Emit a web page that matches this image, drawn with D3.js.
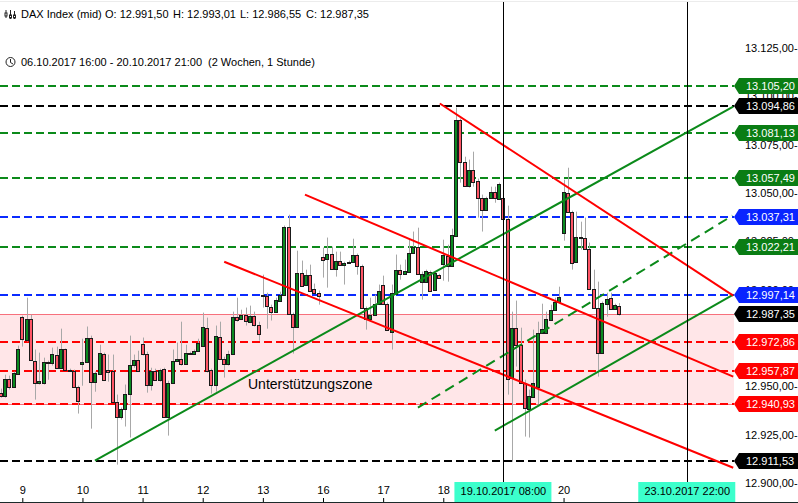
<!DOCTYPE html>
<html lang="de">
<head>
    <meta charset="utf-8">
    <title>DAX Index</title>
    <script src="https://d3js.org/d3.v7.min.js"></script>
</head>
<style>
    body {
        margin: 0;
        padding: 0;
        background-color: #ffffff;
        overflow: hidden;
    }
    svg text {
        font-family: "Liberation Sans", Arial, sans-serif;
        font-size: 11px;
        fill: #000;
    }
    .axis path { display: none; }
    .axis line { stroke: #000; }
    .tag-text { fill: #fff !important; }
</style>
<body>
    <svg width="798" height="503" id="chart"></svg>

    <script>
        // hourly candles, 08:00-21:00 per day, the first six belong to 06.10.
        var candleOpen = [12945.2,12946.7,12945.2,12954.0,12949.8,12956.6,
            12986.0,12974.1,12985.0,12963.3,12951.9,12951.9,12962.2,12962.2,12966.4,12959.6,12969.5,12958.6,12958.1,12949.8,
            12961.7,12962.7,12975.2,12952.4,12956.6,12966.9,12958.6,12958.1,12942.1,12934.3,12938.4,12946.2,12961.2,12963.8,
            12972.1,12966.9,12950.9,12958.1,12953.4,12959.1,12934.3,12951.9,12963.3,12964.3,12961.7,12966.9,12966.9,12968.4,
            12971.0,12980.3,12958.6,12950.9,12975.7,12964.3,12961.7,12966.9,12986.0,12985.0,12987.1,12983.4,12986.5,12981.9,
            12996.9,12996.9,12991.2,12988.6,12994.3,12997.4,13032.5,12987.6,12980.9,13008.8,13002.6,13007.7,13000.5,12998.4,
            13017.0,13016.0,13018.6,13010.8,13015.0,13012.9,13013.9,13014.4,13018.1,13012.4,12990.7,12985.0,12987.1,12992.7,
            13002.6,12992.7,12978.3,12997.9,13010.3,13008.2,13009.3,13019.1,13022.2,13004.1,13004.1,13009.3,13000.0,13007.7,
            13013.4,13017.5,13012.4,13027.9,13087.9,13066.2,13053.7,13062.0,13056.3,13047.5,13041.3,13047.5,13050.6,13047.0,
            13047.5,13036.7,12954.5,12980.3,12971.5,12951.9,12938.4,12944.7,12949.8,12977.7,12977.7,12984.5,12989.6,12993.8,
            13029.4,13050.1,13040.3,13014.4,13026.9,13026.9,13021.2,13000.5,12990.7,12967.4,12992.7,12995.8,12990.2,12991.5];
        var candleHigh = [12947.2,12948.8,12956.0,12955.5,12957.6,12971.0,
            12986.5,12995.8,12987.1,12969.0,12967.4,12964.8,12963.3,12970.0,12970.5,12979.8,12969.5,12959.1,12958.6,12950.3,
            12974.6,12980.9,12976.2,12957.6,12971.5,12967.4,12966.4,12966.4,12945.7,12939.0,12950.9,12976.2,12966.4,12968.4,
            12975.2,12967.9,12959.6,12959.1,12959.1,12959.6,12952.9,12969.0,12972.6,12983.4,12971.5,12967.9,12969.0,12974.6,
            12988.1,12985.5,12959.1,12981.4,12983.4,12965.3,12968.4,12988.6,12995.8,12989.6,12990.7,12991.7,12988.6,12983.4,
            13007.7,12998.4,12992.2,12995.8,12998.9,13033.1,13038.7,12988.1,13020.1,13015.0,13010.3,13012.9,13003.1,12999.5,
            13021.7,13026.9,13022.2,13019.6,13019.6,13014.4,13015.0,13026.3,13018.6,13012.9,12991.2,12995.8,12997.4,13002.6,
            13007.2,12993.3,13002.6,13018.1,13012.9,13015.5,13025.8,13030.0,13032.0,13009.3,13010.3,13009.8,13009.3,13008.2,
            13025.8,13023.2,13031.5,13094.1,13088.4,13068.7,13067.2,13071.3,13057.4,13049.1,13048.0,13053.2,13053.2,13055.3,
            13048.0,13043.4,12988.6,12994.3,12980.3,12953.4,12948.3,12979.3,12983.4,12992.7,12988.6,12992.2,12995.8,13001.5,
            13056.8,13063.0,13040.8,13040.3,13035.1,13037.2,13024.3,13010.3,13004.1,12993.8,12998.4,12998.4,12992.7,12993.01];
        var candleLow = [12943.6,12944.1,12944.1,12948.3,12949.3,12956.0,
            12970.5,12973.1,12963.8,12943.1,12950.9,12950.9,12953.4,12960.7,12959.1,12959.1,12958.1,12957.6,12949.3,12935.9,
            12950.3,12962.2,12928.1,12947.2,12956.0,12952.9,12952.4,12941.5,12909.5,12932.8,12929.2,12923.5,12959.6,12957.6,
            12965.9,12946.7,12947.8,12952.9,12952.4,12933.8,12924.5,12951.4,12962.7,12960.7,12961.2,12966.4,12966.4,12967.9,
            12970.5,12957.1,12946.2,12947.2,12963.8,12954.5,12960.7,12966.4,12983.4,12984.5,12981.4,12982.9,12980.9,12973.6,
            12990.7,12979.8,12984.0,12988.1,12993.8,12996.9,12987.1,12966.9,12980.3,13001.5,13002.0,12998.9,12997.9,12992.2,
            13006.2,13001.0,13010.3,13006.7,13012.4,13002.6,13013.4,13013.9,13007.7,12990.2,12979.3,12984.5,12986.5,12992.2,
            12992.2,12978.8,12969.0,12997.4,13005.1,13007.7,13008.8,13018.6,13007.7,12994.8,13003.6,12998.9,12999.5,13005.7,
            13004.6,13004.1,13011.9,13027.4,13055.3,13053.2,13052.7,13053.2,13037.2,13030.0,13040.8,13047.0,13044.9,13046.5,
            13036.2,12945.7,12911.0,12960.2,12951.4,12924.0,12923.5,12944.1,12940.5,12977.2,12977.2,12984.0,12989.1,12993.3,
            13025.3,13039.8,13010.3,13013.9,13020.7,13020.7,13000.0,12990.2,12955.0,12966.9,12986.0,12989.6,12989.6,12986.55];
        var candleClose = [12945.7,12945.2,12954.0,12949.8,12957.1,12969.5,
            12974.6,12985.0,12963.8,12951.9,12952.9,12962.7,12962.7,12966.9,12959.6,12969.5,12958.6,12958.1,12949.8,12942.6,
            12962.7,12975.2,12952.4,12957.1,12967.4,12953.4,12957.6,12942.1,12934.3,12938.4,12946.2,12961.2,12963.8,12958.1,
            12966.9,12950.9,12958.1,12953.4,12958.6,12934.3,12951.9,12963.3,12964.3,12961.7,12967.4,12967.4,12968.4,12972.6,
            12980.9,12958.1,12950.9,12976.2,12964.3,12961.7,12966.9,12986.0,12984.5,12987.1,12984.0,12986.5,12981.9,12977.2,
            12997.4,12991.7,12988.6,12994.8,12997.4,13032.5,12987.6,12980.9,13008.8,13002.0,13007.7,12999.5,12998.4,12996.9,
            13015.5,13018.6,13010.8,13015.0,13012.9,13013.9,13014.4,13018.1,13012.4,12990.7,12985.0,12987.1,12992.7,12999.5,
            12992.7,12979.3,12998.4,13010.3,13008.2,13009.8,13019.1,13022.2,13008.2,13008.2,13009.8,12999.5,13008.8,13006.2,
            13018.1,13012.4,13028.4,13087.9,13066.2,13053.7,13062.0,13055.8,13047.5,13041.3,13047.5,13050.6,13047.5,13054.8,
            13036.7,12954.0,12980.3,12971.5,12951.9,12939.0,12945.2,12951.9,12977.7,12979.8,12985.0,12989.6,12993.8,12996.4,
            13050.6,13040.3,13013.9,13027.4,13027.4,13021.2,13000.5,12990.7,12967.4,12993.3,12995.3,12990.2,12992.2,12987.35];

        var dayIndex = [6, 20, 34, 48, 62, 76, 90, 104, 118, 132];
        var dayLabels = ["9", "10", "11", "12", "13", "16", "17", "18", "19", "20"];
        var priceTicks = [13125, 13100, 13075, 13050, 13025, 13000, 12975, 12950, 12925, 12900];

        var levelPrices = [13105.20, 13094.86, 13081.13, 13057.49, 13037.31, 13022.21, 12997.14, 12972.86, 12957.87, 12940.93, 12911.53];
        var levelKinds = ["green", "black", "green", "green", "blue", "green", "blue", "red", "red", "red", "black"];

        var zoneTop = 12987.35;
        var zoneBottom = 12940.93;
        var lastClose = 12987.35;

        // trend lines, bar index and price at both ends
        var trendKinds = ["green", "green", "greenDash", "red", "red", "red"];
        var trendStartIndex = [22.9, 116.0, 98.1, 103.2, 71.8, 53.0];
        var trendStartPrice = [12911.6, 12927.1, 12939.0, 13096.2, 13049.1, 13014.4];
        var trendEndIndex = [171.5, 171.5, 171.3, 171.5, 171.5, 171.5];
        var trendEndPrice = [13094.6, 12997.4, 13038.2, 12996.9, 12955.0, 12907.9];

        var crossIndex = [118, 160.8];
        var crossLabels = ["19.10.2017 08:00", "23.10.2017 22:00"];

        var colors = {green: "#0b8a1a", greenDash: "#0b8a1a", black: "#000000", blue: "#0a2bff", red: "#ff0000"};
        var tagColors = {green: "#0a7d14", black: "#000000", blue: "#0a24ff", red: "#ff0000"};

        var svg = d3.select("#chart"),
            plotRight = 734,
            axisY = 502;

        var x = d3.scaleLinear().domain([6, 145]).range([22.3, 619.4]);
        var y = d3.scaleLinear().domain([12900, 13125]).range([483, 47.8]);

        svg.append("rect")
            .attr("x", 0).attr("y", 1).attr("width", 798).attr("height", 1)
            .attr("fill", "#ececec");

        // support zone
        svg.append("rect")
            .attr("x", 0)
            .attr("y", y(zoneTop))
            .attr("width", plotRight)
            .attr("height", y(zoneBottom) - y(zoneTop))
            .attr("fill", "#ffe6e8");

        [zoneTop, zoneBottom].forEach(function(p) {
            svg.append("line")
                .attr("x1", 0).attr("x2", plotRight)
                .attr("y1", Math.round(y(p)) + 0.5).attr("y2", Math.round(y(p)) + 0.5)
                .attr("stroke", "#f7707c");
        });

        // horizontal levels
        svg.append("g").selectAll("line")
            .data(levelPrices)
            .enter()
            .append("line")
            .attr("x1", 0)
            .attr("x2", plotRight)
            .attr("y1", function(d) { return Math.round(y(d)); })
            .attr("y2", function(d) { return Math.round(y(d)); })
            .attr("stroke", function(d, i) { return colors[levelKinds[i]]; })
            .attr("stroke-width", 2)
            .attr("stroke-dasharray", "8,4");

        // candles
        var candles = svg.append("g").selectAll("g")
            .data(d3.range(candleOpen.length))
            .enter()
            .append("g");

        candles.append("line")
            .attr("x1", function(i) { return Math.round(x(i)) + 0.5; })
            .attr("x2", function(i) { return Math.round(x(i)) + 0.5; })
            .attr("y1", function(i) { return y(candleHigh[i]); })
            .attr("y2", function(i) { return y(candleLow[i]); })
            .attr("stroke", "#a8a8a8");

        candles.append("rect")
            .attr("x", function(i) { return Math.round(x(i)) - 1.5; })
            .attr("width", 3)
            .attr("y", function(i) { return Math.round(y(Math.max(candleOpen[i], candleClose[i]))) + 0.5; })
            .attr("height", function(i) {
                return Math.max(1, Math.round(Math.abs(y(candleOpen[i]) - y(candleClose[i]))));
            })
            .attr("fill", function(i) { return candleClose[i] >= candleOpen[i] ? "#0a8a20" : "#ff5566"; })
            .attr("stroke", "#1a1a1a")
            .attr("stroke-width", 1);

        // trend lines
        trendKinds.forEach(function(kind, i) {
            svg.append("line")
                .attr("x1", x(trendStartIndex[i]))
                .attr("y1", y(trendStartPrice[i]))
                .attr("x2", x(trendEndIndex[i]))
                .attr("y2", y(trendEndPrice[i]))
                .attr("stroke", colors[kind])
                .attr("stroke-width", 2)
                .attr("stroke-dasharray", kind == "greenDash" ? "10,6" : null);
        });

        // crosshair lines
        crossIndex.forEach(function(c) {
            svg.append("line")
                .attr("x1", Math.round(x(c)) + 0.5).attr("x2", Math.round(x(c)) + 0.5)
                .attr("y1", 2).attr("y2", axisY)
                .attr("stroke", "#000");
        });

        // header
        var header = [
            ["DAX Index (mid)", 21, 18], ["O: 12.991,50", 105, 18], ["H: 12.993,01", 173, 18],
            ["L: 12.986,55", 240, 18], ["C: 12.987,35", 306, 18],
            ["06.10.2017 16:00 - 20.10.2017 21:00", 21, 66], ["(2 Wochen, 1 Stunde)", 208, 66]
        ];
        header.forEach(function(h) {
            svg.append("text").attr("x", h[1]).attr("y", h[2]).text(h[0]);
        });

        // little bars icon next to the title
        var icon = svg.append("g").attr("stroke", "#222").attr("fill", "none");
        [[6, 10, 18, 13], [10.5, 10, 19, 15], [14.5, 11, 19, 15]].forEach(function(b) {
            icon.append("line").attr("x1", b[0]).attr("x2", b[0]).attr("y1", b[1]).attr("y2", b[2]);
            icon.append("rect").attr("x", b[0] - 1).attr("y", b[3]).attr("width", 2).attr("height", 3).attr("fill", "#fff");
        });

        // clock icon
        var clock = svg.append("g").attr("stroke", "#222").attr("fill", "none");
        clock.append("circle").attr("cx", 10.5).attr("cy", 62).attr("r", 4.5);
        clock.append("path").attr("d", "M10.5,59V62.5L13,64");

        svg.append("text")
            .attr("x", 248)
            .attr("y", 389)
            .style("font-size", "14px")
            .text("Unterstützungszone");

        // price axis
        var de = d3.formatLocale({decimal: ",", thousands: ".", grouping: [3], currency: ["", "€"]});
        var priceFormat = de.format(",.2f");

        svg.append("g")
            .attr("class", "axis")
            .attr("transform", "translate(745,0)")
            .call(d3.axisRight(y)
                .tickValues(priceTicks)
                .tickSize(0)
                .tickPadding(0)
                .tickFormat(function(d) { return priceFormat(d) + "-"; }))
            .attr("font-family", null)
            .attr("font-size", null);

        // day axis
        var dayAxis = svg.append("g")
            .attr("class", "axis")
            .attr("transform", "translate(0," + axisY + ")")
            .call(d3.axisBottom(x)
                .tickValues(dayIndex)
                .tickSize(-4)
                .tickFormat(function(d, i) { return dayLabels[i]; }));
        dayAxis.selectAll("text")
            .attr("y", -8)
            .attr("dy", 0);
        dayAxis.attr("font-family", null).attr("font-size", null);

        svg.append("line")
            .attr("x1", 0).attr("x2", 798)
            .attr("y1", axisY + 0.5).attr("y2", axisY + 0.5)
            .attr("stroke", "#1c2b2b");

        // price tags on the right
        var tagPrices = levelPrices.concat([lastClose]);
        var tagKinds = levelKinds.concat(["black"]);

        var tags = svg.append("g").selectAll("g")
            .data(tagPrices)
            .enter()
            .append("g")
            .attr("transform", function(d) { return "translate(0," + Math.round(y(d)) + ")"; });

        tags.append("path")
            .attr("d", "M734,0L739,-8H798V8H739Z")
            .attr("fill", function(d, i) { return tagColors[tagKinds[i]]; });

        tags.append("text")
            .attr("class", "tag-text")
            .attr("x", 746)
            .attr("y", 4)
            .text(function(d) { return priceFormat(d); });

        // crosshair date tags
        crossIndex.forEach(function(c, i) {
            var cx = x(c);
            svg.append("rect")
                .attr("x", cx - 49)
                .attr("y", 482)
                .attr("width", 97)
                .attr("height", 20)
                .attr("fill", "#3cffcc");
            svg.append("text")
                .attr("x", cx)
                .attr("y", 495)
                .attr("text-anchor", "middle")
                .text(crossLabels[i]);
        });
    </script>
</body>
</html>
